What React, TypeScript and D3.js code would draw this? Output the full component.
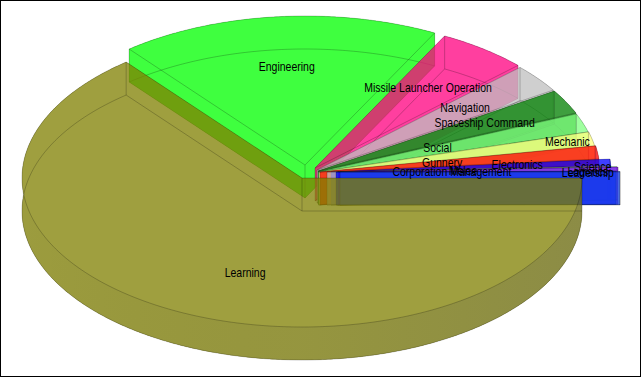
import React from "react";
import * as d3 from "d3";

const categories = ["Learning","Engineering","Missile Launcher Operation","Navigation","Spaceship Command","Social","Mechanic","Gunnery","Electronics","Corporation Management","Melee","Science","Logistics","Leadership"];
const values = [64.2,18.47,5.25,3.08,2.64,2.03,1.53,1.42,0.75,0.08,0.03,0.44,0.03,0.06];
const colors = ["#808000","#00ff00","#ff0080","#c0c0c0","#008000","#80ff80","#ffff80","#ff0000","#0000ff","#c0c0c0","#80ff80","#8000ff","#0000ff","#1b49e9"];

// layout of the exploded pie
const W = 642, H = 377;
const CX = 302, CY = 178, RX = 280, RY = 149, DEPTH = 33;
const explodeX = [0,3,13,15,16,16.5,17,18,29,25,35,36,34,38];
const explodeY = [0,-13,-10,-8,-7,-6,-6,-6,-6,-6,-6,-6,-6,-6];
const labelRadius = [0.67,0.66,0.67,0.68,0.68,0.45,0.91,0.44,0.67,0.45,0.45,0.91,0.91,0.91];
const labelNudgeX = [24,0,0,-2,-2,0,0,0,-1,-1,0,0,-3,-7];
const labelNudgeY = [5,0,0,1,-1,-1.5,0,0,0,2.5,2,-2,1,1];
const ALPHA = 0.75;
const TEXT_SQUEEZE = 0.84;

const pie = d3.pie<number>().sort(null).startAngle(0).endAngle(2 * Math.PI);
const arcs = pie(values);
const line = d3.line<[number, number]>();

function arcPts(cx: number, cy: number, a0: number, a1: number): [number, number][] {
  const n = Math.max(2, Math.ceil((a1 - a0) / 0.01));
  return d3.range(n + 1).map((i) => {
    const a = a0 + ((a1 - a0) * i) / n;
    return [cx + RX * Math.cos(a), cy + RY * Math.sin(a)] as [number, number];
  });
}

function Slice({ i }: { i: number }) {
  const d = arcs[i];
  const vx = CX + explodeX[i], vy = CY + explodeY[i];
  const top = arcPts(vx, vy, d.startAngle, d.endAngle);
  const bot = arcPts(vx, vy + DEPTH, d.startAngle, d.endAngle);
  const v: [number, number] = [vx, vy], vb: [number, number] = [vx, vy + DEPTH];
  const fills = [
    [v, ...top],
    [vb, ...bot],
    [...top, ...bot.slice().reverse()],
    [v, top[0], bot[0], vb],
    [v, top[top.length - 1], bot[bot.length - 1], vb],
  ] as [number, number][][];
  const edges = [
    [top[0], v, top[top.length - 1]],
    [bot[0], vb, bot[bot.length - 1]],
    top,
    bot,
    [v, vb],
    [top[0], bot[0]],
    [top[top.length - 1], bot[bot.length - 1]],
  ] as [number, number][][];
  const frontEnd = Math.min(d.endAngle, Math.PI);
  const band = d.startAngle < Math.PI
    ? [...arcPts(vx, vy, d.startAngle, frontEnd), ...arcPts(vx, vy + DEPTH, d.startAngle, frontEnd).reverse()]
    : null;
  return (
    <g>
      <g opacity={ALPHA} fill={colors[i]}>
        {fills.map((p, k) => <path key={k} d={line(p) + "Z"} />)}
      </g>
      {band && i === 0 && <path d={line(band as [number, number][]) + "Z"} fill="url(#rim)" />}
      <g fill="none" stroke="#000" strokeOpacity={0.22} strokeWidth={1}>
        {edges.map((p, k) => <path key={k} d={line(p) as string} />)}
      </g>
    </g>
  );
}

export default function App() {
  const order = [...d3.range(1, values.length), 0];
  return (
    <svg width={W} height={H} style={{ position: "absolute", left: 0, top: 0, background: "#fff" }}>
      <defs>
        <linearGradient id="rim" gradientUnits="userSpaceOnUse" x1={CX - RX} x2={CX + RX} y1={0} y2={0}>
          <stop offset="0" stopColor="#000" stopOpacity={0.02} />
          <stop offset="0.5" stopColor="#404040" stopOpacity={0.1} />
          <stop offset="1" stopColor="#404060" stopOpacity={0.2} />
        </linearGradient>
      </defs>
      {order.map((i) => <Slice key={i} i={i} />)}
      <g fontFamily="'Liberation Sans', Arial, sans-serif" fontSize={12.5} fill="#000" textAnchor="middle">
        {categories.map((c, i) => {
          const mid = (arcs[i].startAngle + arcs[i].endAngle) / 2;
          const x = CX + explodeX[i] + RX * labelRadius[i] * Math.cos(mid) + labelNudgeX[i];
          const y = CY + explodeY[i] + RY * labelRadius[i] * Math.sin(mid) + labelNudgeY[i];
          return <text key={c} transform={`translate(${x},${y}) scale(${TEXT_SQUEEZE},1)`} dy="0.3em">{c}</text>;
        })}
      </g>
      <rect x={0.5} y={0.5} width={W - 2} height={H - 1} fill="none" stroke="#000" strokeWidth={1} />
    </svg>
  );
}
